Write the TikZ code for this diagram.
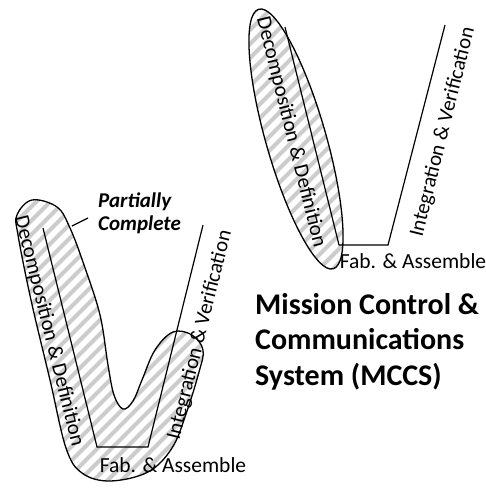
\documentclass[tikz,border=0pt]{standalone}
\usepackage{fontspec}
\setmainfont{Carlito}
\usetikzlibrary{calc}
\definecolor{hatchGray}{HTML}{CCCCCC}

\tikzset{
  vline/.style={line width=1.2pt, line join=miter},
  blob/.style={line width=1.3pt},
  phase/.style={font=\fontsize{21}{22}\selectfont, inner sep=0pt},
  stage/.style={font=\fontsize{21.5}{24}\selectfont, inner sep=0pt, anchor=base},
  title/.style={font=\bfseries\fontsize{30}{35.5}\selectfont, align=left, anchor=base west, inner sep=0pt}
}
% diagonal stripes inside whatever is clipped
\newcommand{\hatchfill}{%
  \foreach \k in {-520,-506,...,520}{
    \draw[hatchGray, line width=4pt] (\k,520) -- (\k+520,0);
  }%
}
\newcommand{\blobpath}{plot[smooth cycle, tension=0.6] coordinates {
      (17,215) (32,200) (57,207) (70,228) (84,265) (100,315) (108,365) (114,395)
      (123,409) (133,401) (142,380) (155,350) (173,332) (192,335) (203,350)
      (199,372) (186,414) (172,448) (148,472) (110,481) (82,473) (66,448)
      (50,380) (31,300) (18,235)}}

\begin{document}
\begin{tikzpicture}[x=1pt,y=-1pt]
  \useasboundingbox (0,0) rectangle (486,491);

  % partial system: shaded outline round the left arm
  \begin{scope}
    \clip \blobpath;
    \hatchfill
  \end{scope}
  \draw[blob] \blobpath;

  % MCCS: shaded ellipse round the left arm
  \begin{scope}
    \clip[rotate around={-74:(296,139)}] (296,139) ellipse [x radius=135, y radius=30];
    \hatchfill
  \end{scope}
  \draw[blob, rotate around={-74:(296,139)}] (296,139) ellipse [x radius=135, y radius=30];

  % left V
  \draw[vline] (43,228) -- (97,447) -- (148,447) -- (203,225);
  \node[phase, rotate=-76] (lDec) at (49,331) {Decomposition \& Definition};
  \node[phase, rotate=76] (lInt) at (200,335) {Integration \& Verification};
  \node[stage] (lFab) at (173,472) {Fab. \& Assemble};

  % right V
  \draw[vline] (285,27) -- (339,245) -- (388,245) -- (445,25);
  \node[phase, rotate=-76] (rDec) at (291,132) {Decomposition \& Definition};
  \node[phase, rotate=76] (rInt) at (443,132) {Integration \& Verification};
  \node[stage] (rFab) at (413,268) {Fab. \& Assemble};

  % status note (base anchor sits on the last line)
  \node[font=\bfseries\itshape\fontsize{21}{23}\selectfont, align=left, inner sep=0pt,
        anchor=base west] (note) at (98,230) {Partially\\Complete};
  \coordinate (noteTip) at (72,226);
  \draw[line width=1.2pt] (noteTip) -- ($(note.base west)+(-10,-12)$);

  \node[title] (mccs) at (255,385) {Mission Control \&\\Communications\\System (MCCS)};
\end{tikzpicture}
\end{document}
